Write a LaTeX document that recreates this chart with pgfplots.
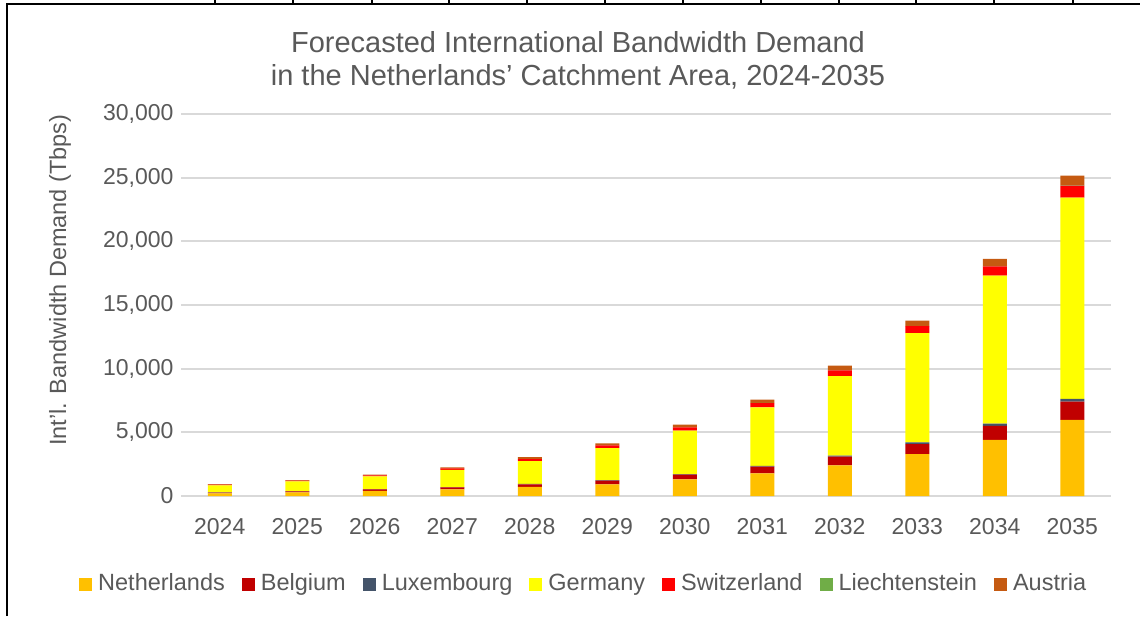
\documentclass[border=0pt]{standalone}
\usepackage{fontspec}
\setmainfont{Liberation Sans}
\usepackage{pgfplots}
\usepackage{pgfplotstable}
\pgfplotsset{compat=1.18}
\definecolor{txt}{HTML}{595959}
\definecolor{gridc}{HTML}{D9D9D9}
\definecolor{cNL}{HTML}{FFC000}
\definecolor{cBE}{HTML}{C00000}
\definecolor{cLU}{HTML}{44546A}
\definecolor{cDE}{HTML}{FFFF00}
\definecolor{cCH}{HTML}{FF0000}
\definecolor{cLI}{HTML}{70AD47}
\definecolor{cAT}{HTML}{C55A11}
\pgfplotstableread{
x  ne    be    lu   de     ch   li  at
0  210   60    10   560    45   2   55
1  280   90    12   760    60   3   50
2  400   120   16   1000   80   3   60
3  520   160   20   1360   100  4   90
4  710   210   25   1800   150  5   160
5  916   300   40   2510   210  6   155
6  1300  370   55   3400   265  8   205
7  1780  520   60   4600   340  10  255
8  2410  680   80   6250   445  12  360
9  3290  780   150  8570   545  15  430
10 4410  1100  180  11620  730  20  555
11 5980  1430  210  15820  940  25  760
}\datatable
\begin{document}
\begin{tikzpicture}[x=1pt,y=1pt]
\useasboundingbox (0,0) rectangle (1140,616);
% frame
\draw[line width=2.5pt,black] (7,0) -- (7,612) -- (1140,612);
\foreach \cx in {215,293,372,449,527,605,683,761,839,916,994,1073}{
  \draw[line width=1.2pt,black] (\cx,612) -- (\cx,616);
}
\begin{axis}[
  at={(181pt,120pt)}, anchor=south west,
  scale only axis, width=930pt, height=382pt,
  ybar stacked, bar width=24pt,
  xmin=-0.5, xmax=11.5, ymin=0, ymax=30000,
  xtick={0,...,11},
  xticklabels={2024,2025,2026,2027,2028,2029,2030,2031,2032,2033,2034,2035},
  ytick={0,5000,10000,15000,20000,25000,30000},
  scaled y ticks=false,
  /pgf/number format/.cd, fixed, 1000 sep={,}, assume math mode=true, /pgfplots/.cd,
  ymajorgrids, grid style={draw=gridc, line width=1.8pt},
  axis line style={draw=none}, major tick style={draw=none},
  tick label style={font=\fontsize{23}{27}\selectfont, text=txt},
  xticklabel style={yshift=-31pt, anchor=center},
  yticklabel style={xshift=-4pt},
  ylabel={Int'l. Bandwidth Demand (Tbps)},
  ylabel style={font=\fontsize{23.5}{27}\selectfont, text=txt, at={(axis description cs:-0.130,0.565)}, anchor=center},
  legend columns=-1,
  legend style={at={(axis description cs:0.433,-0.231)}, anchor=center, draw=none, fill=none,
    font=\fontsize{23.5}{27}\selectfont, text=txt,
    nodes={text height=17pt, text depth=5pt},
    /tikz/every even column/.append style={column sep=15pt},
    /tikz/every odd column/.append style={column sep=0pt}},
  legend image code/.code={\fill[#1,draw=none] (0pt,-6.5pt) rectangle (13pt,6.5pt); \path (17pt,0pt);},
  every axis plot/.append style={draw=none},
]
\addplot[fill=cNL] table[x=x,y=ne]{\datatable};
\addplot[fill=cBE] table[x=x,y=be]{\datatable};
\addplot[fill=cLU] table[x=x,y=lu]{\datatable};
\addplot[fill=cDE] table[x=x,y=de]{\datatable};
\addplot[fill=cCH] table[x=x,y=ch]{\datatable};
\addplot[fill=cLI] table[x=x,y=li]{\datatable};
\addplot[fill=cAT] table[x=x,y=at]{\datatable};
\legend{Netherlands,Belgium,Luxembourg,Germany,Switzerland,Liechtenstein,Austria}
\end{axis}
\node[text=txt, font=\fontsize{29}{33}\selectfont, align=center] at (578,556)
  {Forecasted International Bandwidth Demand\\in the Netherlands’ Catchment Area, 2024-2035};
\end{tikzpicture}
\end{document}
